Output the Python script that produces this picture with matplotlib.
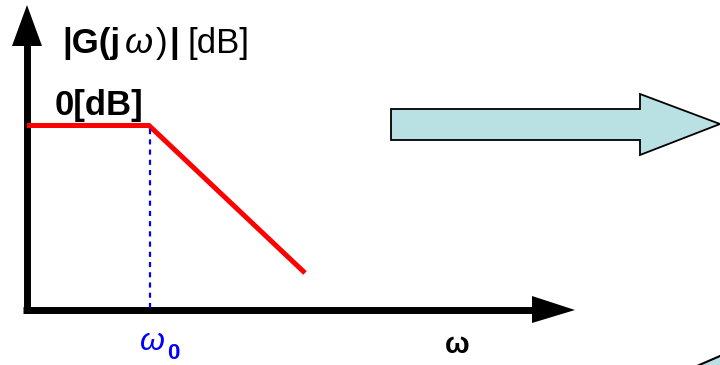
import matplotlib.pyplot as plt
from matplotlib.patches import Polygon

plt.rcParams['font.family'] = ['Liberation Sans', 'DejaVu Sans']

# asymptotic gain curve (diagram units: origin at axis crossing, y up)
bode_w = [0, 122, 278]
bode_db = [184.5, 184.5, 37]
w0 = 123

# block arrow outline (body + head)
arrow_x = [364, 613, 613, 693, 613, 613, 364]
arrow_y = [201, 201, 216, 186, 155, 170, 170]

fig = plt.figure(figsize=(7.2, 3.65), dpi=100)
ax = fig.add_axes([0, 0, 1, 1])
ax.set_xlim(-27, 693)
ax.set_ylim(-55, 310)
ax.axis('off')

# axes with arrow heads
ax.plot([0, 0], [-3, 266], color='black', lw=5, solid_capstyle='butt')
ax.add_patch(Polygon([(0, 305), (-15, 264), (15, 264)], closed=True, fc='black', ec='none'))
ax.plot([-4, 507], [0, 0], color='black', lw=5, solid_capstyle='butt')
ax.add_patch(Polygon([(548, 0), (505, 14), (505, -13)], closed=True, fc='black', ec='none'))

# gain asymptotes and corner frequency marker
ax.plot(bode_w, bode_db, color='#ff0000', lw=3.6, solid_capstyle='butt', solid_joinstyle='miter')
ax.plot([w0, w0], [2, bode_db[0] - 3], color='#0000ff', lw=1.6, linestyle=(0, (2.3, 2.3)))

# labels
ax.text(35, 257, '|G(j', fontsize=25, fontweight='bold', va='baseline')
ax.text(98, 257, 'ω', fontsize=26, style='italic', va='baseline')
ax.text(129, 257, ')', fontsize=25, va='baseline')
ax.text(142, 257, '|', fontsize=25, fontweight='bold', va='baseline')
ax.text(161, 257, '[dB]', fontsize=25, va='baseline')
ax.text(28, 195, '0[dB]', fontsize=25, fontweight='bold', va='baseline')
ax.text(113, -40, 'ω', fontsize=23, style='italic', color='#0000ff', va='baseline')
ax.text(140, -49, '0', fontsize=16, fontweight='bold', color='#0000ff', va='baseline')
ax.text(418, -43, 'ω', fontsize=21, fontweight='bold', color='black', va='baseline')

# block arrow pointing right
ax.add_patch(Polygon(list(zip(arrow_x, arrow_y)), closed=True, fc='#b9e0e3', ec='black', lw=1.3))
# corner of the next arrow peeking in
ax.add_patch(Polygon([(670, -56), (693, -46), (700, -43), (700, -60), (670, -60)],
                     closed=True, fc='#b9e0e3', ec='black', lw=1.5))

fig.savefig('out.png', dpi=100)
